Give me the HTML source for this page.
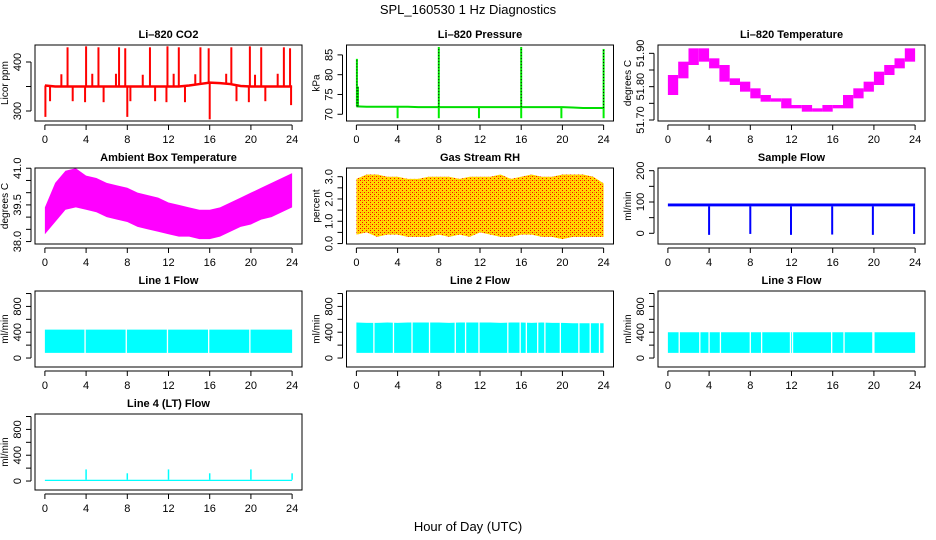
<!DOCTYPE html>
<html><head><meta charset="utf-8"><style>
body{margin:0;background:#fff}
svg{display:block;font-family:"Liberation Sans",sans-serif}
</style></head><body>
<svg id="c" width="936" height="540" viewBox="0 0 936 540">
<defs>
<pattern id="rhpat" width="4" height="4" patternUnits="userSpaceOnUse">
<rect width="4" height="4" fill="#ffd800"/><rect x="0" y="0" width="1" height="1" fill="#ff0000"/><rect x="2" y="2" width="1" height="1" fill="#ff0000"/><rect x="2" y="0" width="1" height="1" fill="#ff9000"/>
</pattern>
</defs>
<text x="468" y="14" text-anchor="middle" font-size="13">SPL_160530  1 Hz Diagnostics</text>
<text x="468" y="531" text-anchor="middle" font-size="13">Hour of Day (UTC)</text>
</svg>
<script>
// ---- data ----
const hours = [0,1,2,3,4,5,6,7,8,9,10,11,12,13,14,15,16,17,18,19,20,21,22,23,24];
const xTicks = [0,4,8,12,16,20,24];
const co2Base = [352,350,350,350,350,350,350,350,350,350,350,350,350,350,352,355,358,357,355,351,350,350,350,350,350];
const co2SpikeTimes = [2.2,4.0,5.2,7.2,7.8,10.2,11.9,13.0,15.1,15.9,18.1,19.9,21.0,23.2,23.8,1.6,4.6,6.9,9.5,12.5,14.6,17.6,20.4,22.6,0.5,2.7,3.9,5.7,8.3,10.7,11.8,13.6,18.6,19.8,21.4,23.9,0.05,8.0,16.0];
const co2SpikeVals = [430,432,430,430,428,430,432,430,430,428,430,432,430,430,428,375,376,376,374,376,375,376,374,376,320,320,318,318,320,320,318,318,320,318,320,312,288,288,283];
const presBase = [72,71.9,71.9,71.9,71.9,71.9,71.8,71.8,71.8,71.8,71.8,71.8,71.8,71.8,71.8,71.8,71.8,71.8,71.8,71.8,71.8,71.7,71.6,71.6,71.6];
const presSpikeTimes = [0.05,0.15,8.0,16.0,24.0,4.0,8.0,11.9,16.0,19.9,24.0];
const presSpikeVals = [84,77,87,87,86.5,69,69,69,69,69,69];
const tempVals = [51.78,51.83,51.87,51.91,51.88,51.86,51.82,51.81,51.79,51.77,51.76,51.76,51.74,51.74,51.73,51.73,51.74,51.74,51.77,51.79,51.81,51.84,51.86,51.88,51.91];
const ambHi = [39.4,40.4,40.9,41.0,40.7,40.6,40.4,40.3,40.2,40.0,39.9,39.8,39.6,39.5,39.4,39.3,39.3,39.4,39.6,39.8,40.0,40.2,40.4,40.6,40.8];
const ambLo = [38.3,38.8,39.3,39.4,39.3,39.2,39.0,38.9,38.8,38.6,38.5,38.4,38.3,38.2,38.2,38.1,38.1,38.2,38.4,38.6,38.7,38.9,39.0,39.2,39.4];
const rhHi = [2.9,3.1,3.1,3.0,3.0,2.9,2.9,3.0,3.0,3.0,2.9,3.0,3.0,3.0,3.1,2.9,3.0,3.1,3.0,3.0,3.1,3.1,3.1,3.0,2.7];
const rhLo = [0.4,0.5,0.3,0.4,0.4,0.3,0.3,0.3,0.4,0.3,0.4,0.3,0.5,0.4,0.3,0.3,0.4,0.4,0.3,0.3,0.2,0.3,0.3,0.3,0.3];
const sfHi = [95,95,95,95,95,95,95,95,95,95,95,95,95,95,95,95,95,95,95,95,95,95,95,95,95];
const sfLo = [86,86,86,86,86,86,86,86,86,86,86,86,86,86,86,86,86,86,86,86,86,86,86,86,86];
const sfSpikeTimes = [4.0,8.0,11.95,15.95,19.9,23.9];
const sfSpikeVals = [-5,-2,-5,-4,-5,-2];
const l1Hi = [440,440,440,440,440,440,440,440,440,440,440,440,440,440,440,440,440,440,440,440,440,440,440,440,440];
const l1Lo = [80,80,80,80,80,80,80,80,80,80,80,80,80,80,80,80,80,80,80,80,80,80,80,80,80];
const l1Gaps = [3.9,7.9,11.9,15.9,19.9];
const l2Hi = [550,545,545,550,545,550,550,550,550,545,550,550,550,550,545,550,550,545,550,545,545,540,540,540,540];
const l2Lo = [80,80,80,80,80,80,80,80,80,80,80,80,80,80,80,80,80,80,80,80,80,80,80,80,80];
const l2Gaps = [1.7,3.6,5.4,7.1,9.6,10.6,11.9,14.7,15.9,16.5,17.6,18.3,19.8,21.6,22.7,23.6];
const l3Hi = [400,400,400,400,400,400,400,400,400,400,400,400,400,400,400,400,400,400,400,400,400,400,400,400,400];
const l3Lo = [80,80,80,80,80,80,80,80,80,80,80,80,80,80,80,80,80,80,80,80,80,80,80,80,80];
const l3Gaps = [1.1,3.1,4.0,5.1,8.0,9.1,11.9,12.1,15.9,17.1,19.9,20.0];
const l4Hi = [20,20,20,20,20,20,20,20,20,20,20,20,20,20,20,20,20,20,20,20,20,20,20,20,20];
const l4Lo = [0,0,0,0,0,0,0,0,0,0,0,0,0,0,0,0,0,0,0,0,0,0,0,0,0];
const l4SpikeTimes = [4.0,8.0,12.0,16.0,20.0,24.0];
const l4SpikeVals = [180,120,180,120,180,120];

// ---- layout ----
const NS = "http://www.w3.org/2000/svg";
const svg = document.getElementById('c');
const colLeft = [35, 346.5, 658];
const rowTop = [45, 168, 291, 414];
const W = 267, H = 76;
function mk(tag, attrs, parent){ const e = document.createElementNS(NS, tag); for (const k in attrs) e.setAttribute(k, attrs[k]); (parent||svg).appendChild(e); return e; }

function panel(name, title, ylab, col, row, ymin, ymax, yTicks, yLabels){
  const L = colLeft[col], T = rowTop[row];
  const g = mk('g', {});
  
  
  const sx = h => L + (h + 0.96) / 25.92 * W;
  const sy = v => T + (ymax - v) / (ymax - ymin) * H;
  const clipId = 'clip-' + name;
  const cp = mk('clipPath', {id: clipId}, g);
  mk('rect', {x: L, y: T, width: W, height: H}, cp);
  const plot = mk('g', {'clip-path': 'url(#' + clipId + ')'}, g);
  
  
  const t = mk('text', {x: L + W/2, y: T - 7, 'text-anchor': 'middle', 'font-size': 11, 'font-weight': 'bold'}, g);
  t.textContent = title;
  
  
  const xa = mk('g', {}, g);
  
  
  mk('line', {x1: sx(xTicks[0]), x2: sx(xTicks[xTicks.length-1]), y1: T+H+4, y2: T+H+4, stroke: '#000'}, xa);
  xTicks.forEach(h => {
    mk('line', {x1: sx(h), x2: sx(h), y1: T+H+4, y2: T+H+9, stroke: '#000'}, xa);
    const tx = mk('text', {x: sx(h), y: T+H+22, 'text-anchor': 'middle', 'font-size': 11}, xa);
    tx.textContent = h;
  });
  const ya = mk('g', {}, g);
  
  
  mk('line', {x1: L-4, x2: L-4, y1: sy(yTicks[0]), y2: sy(yTicks[yTicks.length-1]), stroke: '#000'}, ya);
  yTicks.forEach((v, i) => {
    mk('line', {x1: L-9, x2: L-4, y1: sy(v), y2: sy(v), stroke: '#000'}, ya);
    if (yLabels[i] !== '') {
      const tx = mk('text', {x: 0, y: 0, 'text-anchor': 'middle', 'font-size': 11, transform: `translate(${L-14},${sy(v)}) rotate(-90)`}, ya);
      tx.textContent = yLabels[i];
    }
  });
  const yl = mk('text', {x: 0, y: 0, 'text-anchor': 'middle', 'font-size': 10, transform: `translate(${L-27},${T+H/2}) rotate(-90)`}, g);
  yl.textContent = ylab;
  
  
  const box = mk('rect', {x: L, y: T, width: W, height: H, fill: 'none', stroke: '#000', 'stroke-width': 1}, g);
  
  
  return {sx, sy, plot};
}
function band(p, lo, hi, fill){
  let d = 'M' + hours.map((h,i) => p.sx(h) + ',' + p.sy(hi[i])).join('L');
  d += 'L' + hours.slice().reverse().map((h,j) => { const i = hours.length-1-j; return p.sx(h) + ',' + p.sy(lo[i]); }).join('L') + 'Z';
  const e = mk('path', {d, fill, stroke: 'none'}, p.plot);
  
  
  return e;
}
function line(p, vals, color, w){
  const e = mk('polyline', {points: hours.map((h,i) => p.sx(h) + ',' + p.sy(vals[i])).join(' '), fill: 'none', stroke: color, 'stroke-width': w}, p.plot);
  
  
}
function baseAt(arr, h){ const i = Math.min(23, Math.floor(h)); const f = h - i; return arr[i] + (arr[i+1]-arr[i]) * f; }
function spikes(p, times, vals, base, color, w, dash){
  times.forEach((h,i) => {
    const e = mk('line', {x1: p.sx(h), x2: p.sx(h), y1: p.sy(baseAt(base, h)), y2: p.sy(vals[i]), stroke: color, 'stroke-width': w}, p.plot);
    if (dash) e.setAttribute('stroke-dasharray', dash);
    
    
  });
}
function gaps(p, times){
  times.forEach(h => {
    const e = mk('line', {x1: p.sx(h), x2: p.sx(h), y1: p.sy(2000), y2: p.sy(-500), stroke: '#fff', 'stroke-width': 1.3}, p.plot);
    
    
  });
}

let p = panel('co2', 'Li\u2013820 CO2', 'Licor ppm', 0, 0, 279.6, 434.7, [300,350,400], ['300','','400']);
spikes(p, co2SpikeTimes, co2SpikeVals, co2Base, '#ff0000', 2);
line(p, co2Base, '#ff0000', 2.5);
p = panel('pressure', 'Li\u2013820 Pressure', 'kPa', 1, 0, 68.3, 87.5, [70,75,80,85], ['70','75','80','85']);
line(p, presBase, '#00dd00', 2);
spikes(p, presSpikeTimes, presSpikeVals, presBase, '#00ee00', 2);
spikes(p, presSpikeTimes.slice(0,5), presSpikeVals.slice(0,5), presBase, '#000', 1, '1,2');
p = panel('li820-temp', 'Li\u2013820 Temperature', 'degrees C', 2, 0, 51.697, 51.925, [51.70,51.75,51.80,51.85,51.90], ['51.70','','51.80','','51.90']);
hours.slice(0,24).forEach((h,i) => {
  const a = tempVals[i], b = tempVals[i+1];
  const r = mk('rect', {x: p.sx(h), y: p.sy(Math.max(a,b)+0.005), width: p.sx(h+1)-p.sx(h), height: p.sy(Math.min(a,b)-0.005)-p.sy(Math.max(a,b)+0.005), fill: '#ff00ff'}, p.plot);
  
  
});
p = panel('ambient-temp', 'Ambient Box Temperature', 'degrees C', 0, 1, 37.9, 41.01, [38.0,38.5,39.0,39.5,40.0,40.5,41.0], ['38.0','','','39.5','','','41.0']);
band(p, ambLo, ambHi, '#ff00ff');
p = panel('gas-rh', 'Gas Stream RH', 'percent', 1, 1, -0.02, 3.39, [0,0.5,1,1.5,2,2.5,3], ['0.0','','1.0','','2.0','','3.0']);
band(p, rhLo, rhHi, 'url(#rhpat)');
p = panel('sample-flow', 'Sample Flow', 'ml/min', 2, 1, -34.2, 208.6, [0,50,100,150,200], ['0','','100','','200']);
band(p, sfLo, sfHi, '#0000ff');
spikes(p, sfSpikeTimes, sfSpikeVals, sfLo, '#0000ff', 2);
const lt = [0,200,400,600,800,1000], ll = ['0','','400','','800',''];
p = panel('line1-flow', 'Line 1 Flow', 'ml/min', 0, 2, -139, 1039, lt, ll);
band(p, l1Lo, l1Hi, '#00ffff'); gaps(p, l1Gaps);
p = panel('line2-flow', 'Line 2 Flow', 'ml/min', 1, 2, -139, 1039, lt, ll);
band(p, l2Lo, l2Hi, '#00ffff'); gaps(p, l2Gaps);
p = panel('line3-flow', 'Line 3 Flow', 'ml/min', 2, 2, -139, 1039, lt, ll);
band(p, l3Lo, l3Hi, '#00ffff'); gaps(p, l3Gaps);
p = panel('line4-flow', 'Line 4 (LT) Flow', 'ml/min', 0, 3, -139, 1039, lt, ll);
band(p, l4Lo, l4Hi, '#00ffff');
spikes(p, l4SpikeTimes, l4SpikeVals, l4Hi, '#00ffff', 1.5);
</script>
</body></html>
